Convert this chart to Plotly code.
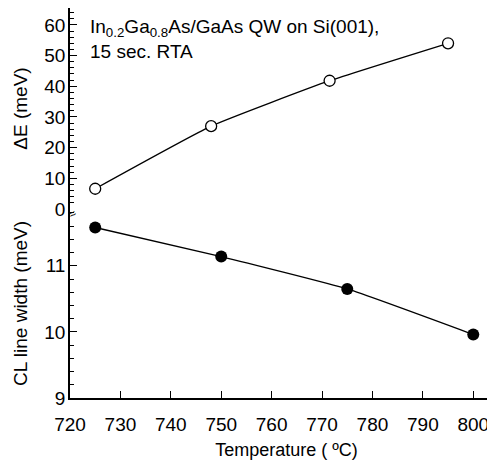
import plotly.graph_objects as go

temp_de = [725, 748, 771.5, 795]
delta_e = [6.6, 27.0, 41.8, 54.0]
temp_cl = [725, 750, 775, 800]
cl_width = [11.58, 11.14, 10.65, 9.96]

x_ticks = [720, 730, 740, 750, 760, 770, 780, 790, 800]
de_ticks = [0, 10, 20, 30, 40, 50, 60]
cl_ticks = [9, 10, 11]

FONT = "Liberation Sans, Arial, sans-serif"

fig = go.Figure()
fig.add_trace(go.Scatter(
    x=temp_de, y=delta_e, mode="lines+markers", xaxis="x2", yaxis="y2",
    line=dict(color="black", width=1.3, shape="spline", smoothing=0.4),
    marker=dict(symbol="circle", size=11, color="white", line=dict(width=1.3, color="black")),
    showlegend=False,
))
fig.add_trace(go.Scatter(
    x=temp_cl, y=cl_width, mode="lines+markers", xaxis="x", yaxis="y",
    line=dict(color="black", width=1.3, shape="spline", smoothing=0.4),
    marker=dict(symbol="circle", size=12, color="black"),
    showlegend=False,
))

split = 0.4846
common_tick = dict(ticks="inside", tickcolor="black", tickwidth=1.2,
                   tickfont=dict(family=FONT, size=19, color="black"),
                   showgrid=False, zeroline=False)

fig.update_layout(
    width=495, height=464,
    margin=dict(l=62, r=0, t=0, b=74),
    plot_bgcolor="white", paper_bgcolor="white",
    font=dict(family=FONT, color="black"),
    xaxis=dict(domain=[0, 1], anchor="y", range=[720, 805.9],
               tickvals=x_ticks, ticklen=7, showline=True, linecolor="black", linewidth=1.5,
               ticklabelstandoff=8,
               title=dict(text="Temperature ( ºC)", font=dict(family=FONT, size=18), standoff=10),
               **common_tick),
    yaxis=dict(domain=[0, split], anchor="x", range=[9, 11.86],
               tickvals=cl_ticks, ticklen=7, showline=True, linecolor="black", linewidth=1.5,
               ticklabelstandoff=-1,
               minor=dict(dtick=0.2, ticklen=4, ticks="inside", tickcolor="black", tickwidth=1),
               title=dict(text="CL line width (meV)", font=dict(family=FONT, size=19), standoff=12),
               **common_tick),
    xaxis2=dict(domain=[0, 1], anchor="y2", range=[720, 805.9], matches="x",
                showticklabels=False, ticks="", showline=True, side="top",
                linecolor="black", linewidth=1.5, mirror=False, showgrid=False, zeroline=False),
    yaxis2=dict(domain=[split, 1], anchor="x2", range=[0, 65.5],
                tickvals=de_ticks, ticklen=7, showline=True, linecolor="black", linewidth=1.5,
                ticklabelstandoff=-1,
                minor=dict(dtick=2, ticklen=4, ticks="inside", tickcolor="black", tickwidth=1),
                title=dict(text="ΔE (meV)", font=dict(family=FONT, size=19), standoff=12),
                **common_tick),
)

fig.add_annotation(
    text="In<sub>0.2</sub>Ga<sub>0.8</sub>As/GaAs QW on Si(001),<br>15 sec. RTA",
    xref="paper", yref="paper", x=0.042, y=0.985, xanchor="left", yanchor="top",
    align="left", showarrow=False, font=dict(family=FONT, size=19, color="black"),
)
fig.add_annotation(
    text="≈", xref="paper", yref="paper", x=0, y=split - 0.012, xanchor="center", yanchor="middle",
    xshift=2, showarrow=False, textangle=-30, borderpad=0,
    font=dict(family=FONT, size=12, color="black"),
)

fig.write_html("out.html")
